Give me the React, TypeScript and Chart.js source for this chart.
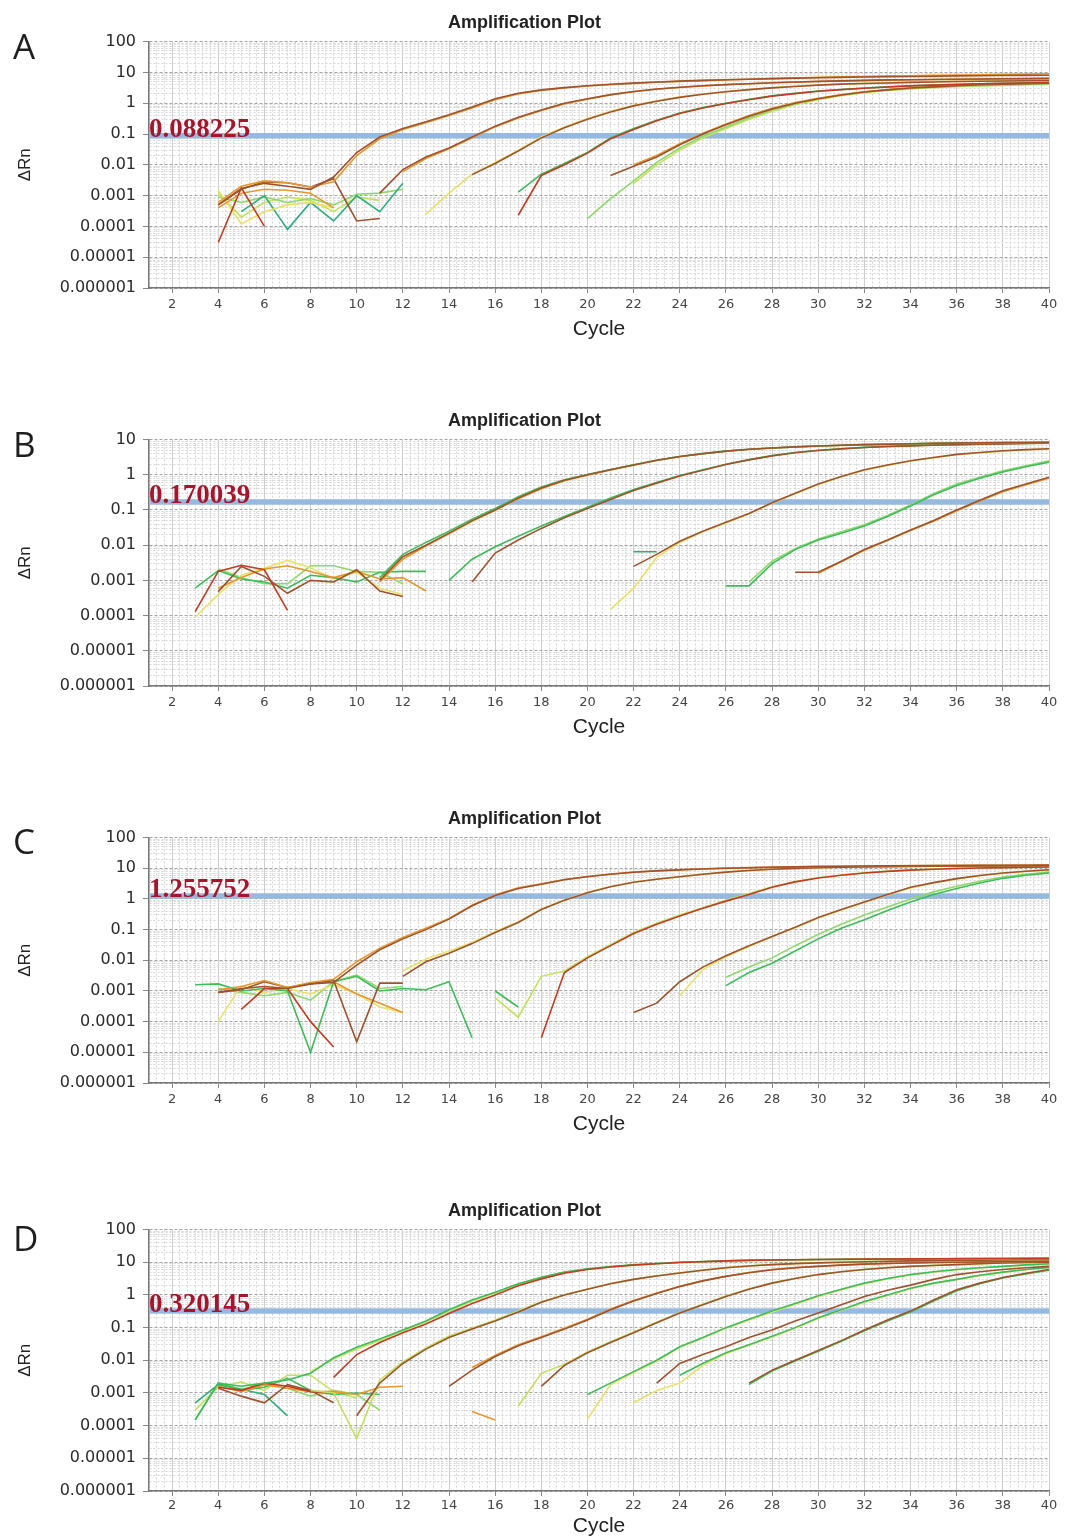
import React, { useEffect, useRef } from 'react';
import { Chart, registerables } from 'chart.js';

Chart.register(...registerables);

// ---------- categories & labels ----------
const CYCLES = Array.from({ length: 40 }, (_, i) => i + 1);
const X_TICK_LABELS = ['2', '4', '6', '8', '10', '12', '14', '16', '18', '20', '22', '24', '26', '28', '30', '32', '34', '36', '38', '40'];
const Y_TICK_LABELS = ['100', '10', '1', '0.1', '0.01', '0.001', '0.0001', '0.00001', '0.000001'];

// thresholds
const THR_A = 0.088225;
const THR_B = 0.170039;
const THR_C = 1.255752;
const THR_D = 0.320145;
const THR_A_LABEL = '0.088225';
const THR_B_LABEL = '0.170039';
const THR_C_LABEL = '1.255752';
const THR_D_LABEL = '0.320145';

// place a run of values starting at a given cycle
const pad = (start: number, vals: number[]) => {
  const out: (number | null)[] = Array(40).fill(null);
  vals.forEach((v, i) => { out[start - 1 + i] = v; });
  return out;
};

// ---------- Panel A ----------
const A1a = pad(4, [0.0005, 0.0017, 0.0025, 0.002, 0.0016, 0.004, 0.025, 0.08, 0.15, 0.25, 0.42, 0.75, 1.4, 2.1, 2.7, 3.2, 3.7, 4.1, 4.5, 4.9, 5.2, 5.5, 5.8, 6.0, 6.3, 6.5, 6.7, 6.9, 7.1, 7.3, 7.4, 7.5, 7.7, 7.8, 7.9, 8.0, 8.1]);
const A1b = pad(4, [0.0006, 0.002, 0.003, 0.0026, 0.0019, 0.0028, 0.02, 0.07, 0.14, 0.23, 0.4, 0.7, 1.3, 2.0, 2.6, 3.1, 3.6, 4.0, 4.4, 4.8, 5.1, 5.4, 5.7, 6.0, 6.3, 6.6, 6.9, 7.2, 7.4, 7.6, 7.8, 8.0, 8.2, 8.4, 8.6, 8.8, 9.0]);
const A2a = pad(11, [0.0012, 0.007, 0.018, 0.035, 0.08, 0.18, 0.35, 0.6, 1.0, 1.4, 1.9, 2.4, 2.9, 3.3, 3.7, 4.0, 4.3, 4.6, 4.9, 5.1, 5.3, 5.5, 5.7, 5.8, 5.9, 6.0, 6.1, 6.2, 6.3, 6.4]);
const A2b = pad(12, [0.006, 0.016, 0.033, 0.075, 0.17, 0.33, 0.58, 0.95, 1.35, 1.85, 2.35, 2.85, 3.25, 3.65, 4.0, 4.3, 4.6, 4.85, 5.05, 5.25, 5.45, 5.6, 5.75, 5.85, 5.95, 6.05, 6.15, 6.25, 6.35]);
const A3a = pad(13, [0.00025, 0.0012, 0.005, 0.012, 0.03, 0.08, 0.17, 0.32, 0.55, 0.85, 1.2, 1.6, 2.0, 2.4, 2.8, 3.2, 3.6, 3.9, 4.2, 4.4, 4.6, 4.8, 4.95, 5.1, 5.2, 5.3, 5.4, 5.5]);
const A3b = pad(15, [0.0048, 0.011, 0.028, 0.075, 0.16, 0.3, 0.52, 0.82, 1.15, 1.55, 1.95, 2.35, 2.75, 3.15, 3.5, 3.85, 4.15, 4.35, 4.55, 4.75, 4.9, 5.05, 5.15, 5.25, 5.35, 5.45]);
const A4a = pad(17, [0.0013, 0.005, 0.011, 0.025, 0.075, 0.15, 0.28, 0.48, 0.72, 1.0, 1.35, 1.75, 2.1, 2.5, 2.8, 3.1, 3.4, 3.7, 3.9, 4.1, 4.3, 4.45, 4.6, 4.75]);
const A4b = pad(17, [0.00023, 0.0045, 0.01, 0.024, 0.07, 0.14, 0.27, 0.46, 0.7, 0.98, 1.3, 1.7, 2.05, 2.45, 2.75, 3.05, 3.35, 3.65, 3.85, 4.05, 4.25, 4.4, 4.55, 4.7]);
const A5a = pad(21, [0.0045, 0.009, 0.018, 0.045, 0.1, 0.2, 0.38, 0.65, 1.0, 1.4, 1.85, 2.3, 2.7, 3.1, 3.4, 3.7, 3.95, 4.15, 4.3, 4.45]);
const A5b = pad(22, [0.01, 0.02, 0.048, 0.105, 0.21, 0.4, 0.68, 1.05, 1.45, 1.9, 2.35, 2.75, 3.15, 3.45, 3.75, 4.0, 4.2, 4.35, 4.5]);
const A6a = pad(20, [0.00018, 0.0008, 0.003, 0.012, 0.035, 0.085, 0.17, 0.33, 0.6, 0.95, 1.4, 1.85, 2.3, 2.7, 3.0, 3.3, 3.55, 3.75, 3.9, 4.05, 4.2]);
const A6b = pad(22, [0.0025, 0.01, 0.03, 0.075, 0.15, 0.3, 0.55, 0.9, 1.3, 1.75, 2.2, 2.6, 2.9, 3.2, 3.45, 3.65, 3.8, 3.95, 4.1]);
const nA1 = pad(4, [0.00003, 0.0018, 0.0001]);
const nA2 = pad(4, [0.0005, 0.0016, 0.0028, 0.0026, 0.0019, 0.0035, 0.00015, 0.00018]);
const nA3 = pad(4, [0.0004, 0.0012, 0.0016, 0.0015, 0.0012, 0.0004]);
const nA4 = pad(4, [0.0015, 0.00012, 0.0003, 0.0005, 0.0006, 0.0004]);
const nA5 = pad(5, [0.0003, 0.001, 0.00008, 0.0006, 0.00015, 0.001, 0.0003, 0.0025]);
const nA6 = pad(4, [0.0009, 0.0006, 0.0009, 0.0006, 0.0008, 0.0005, 0.0011, 0.0012, 0.0016]);
const nA7 = pad(4, [0.0012, 0.0002, 0.0006, 0.0009, 0.0007, 0.0003, 0.0009, 0.0007]);

// ---------- Panel B ----------
const B1a = pad(11, [0.001, 0.0047, 0.01, 0.022, 0.05, 0.1, 0.22, 0.42, 0.7, 1.0, 1.4, 1.9, 2.6, 3.3, 4.0, 4.7, 5.3, 5.8, 6.2, 6.6, 6.9, 7.2, 7.4, 7.6, 7.8, 8.0, 8.1, 8.2, 8.3, 8.4]);
const B1b = pad(11, [0.0012, 0.0055, 0.012, 0.025, 0.055, 0.11, 0.24, 0.45, 0.72, 1.02, 1.42, 1.92, 2.6, 3.3, 4.0, 4.7, 5.3, 5.8, 6.2, 6.6, 6.9, 7.2, 7.4, 7.6, 7.8, 8.0, 8.1, 8.2, 8.3, 8.4]);
const B1c = pad(11, [0.0009, 0.004, 0.0095, 0.021, 0.048, 0.098, 0.21, 0.4, 0.68, 0.98, 1.38, 1.88, 2.55, 3.25, 3.95, 4.65, 5.25, 5.75, 6.15, 6.55, 6.85, 7.15, 7.35, 7.55, 7.75, 7.95, 8.05, 8.15, 8.25, 8.35]);
const B2a = pad(14, [0.001, 0.004, 0.009, 0.018, 0.035, 0.065, 0.12, 0.22, 0.38, 0.6, 0.95, 1.4, 2.0, 2.7, 3.5, 4.3, 5.0, 5.5, 6.0, 6.4, 6.7, 7.0, 7.2, 7.4, 7.6, 7.8, 8.0]);
const B2b = pad(15, [0.0009, 0.006, 0.014, 0.03, 0.06, 0.11, 0.2, 0.36, 0.58, 0.92, 1.35, 1.95, 2.65, 3.45, 4.25, 4.9, 5.45, 5.95, 6.35, 6.65, 6.95, 7.15, 7.35, 7.55, 7.75, 7.95]);
const B3a = pad(22, [0.0025, 0.0055, 0.013, 0.025, 0.045, 0.08, 0.16, 0.3, 0.55, 0.9, 1.4, 1.9, 2.5, 3.1, 3.8, 4.3, 4.8, 5.2, 5.5]);
const B3b = pad(21, [0.00015, 0.0006, 0.0045, 0.012, 0.024, 0.043, 0.078, 0.155, 0.29, 0.53, 0.88, 1.35, 1.85, 2.45, 3.05, 3.7, 4.2, 4.7, 5.1, 5.4]);
const B3c = pad(22, [0.0065, 0.0065]);
const B4a = pad(26, [0.0007, 0.0007, 0.003, 0.0075, 0.014, 0.022, 0.035, 0.065, 0.13, 0.27, 0.5, 0.8, 1.2, 1.7, 2.3]);
const B4b = pad(27, [0.0009, 0.0035, 0.008, 0.015, 0.024, 0.038, 0.07, 0.14, 0.29, 0.55, 0.85, 1.3, 1.8, 2.5]);
const B5a = pad(29, [0.0017, 0.0017, 0.0035, 0.0075, 0.014, 0.027, 0.05, 0.1, 0.19, 0.35, 0.55, 0.85]);
const B5b = pad(30, [0.0016, 0.0034, 0.0072, 0.0135, 0.026, 0.048, 0.095, 0.18, 0.33, 0.52, 0.8]);
const nB1 = pad(3, [0.0006, 0.0019, 0.0011, 0.0009, 0.0006, 0.0014, 0.0012, 0.0009, 0.0017, 0.0018, 0.0018]);
const nB2 = pad(3, [0.00013, 0.0018, 0.0027, 0.002, 0.00014]);
const nB3 = pad(4, [0.00048, 0.0025, 0.0013, 0.00043, 0.001, 0.0009, 0.002, 0.0005, 0.00035]);
const nB4 = pad(4, [0.0006, 0.0012, 0.0021, 0.0026, 0.0018, 0.0012, 0.0018, 0.0011, 0.0012, 0.0005]);
const nB5 = pad(3, [0.00009, 0.0004, 0.0014, 0.0022, 0.0037, 0.0023, 0.0011, 0.0017, 0.0006, 0.0004]);
const nB6 = pad(4, [0.0021, 0.0012, 0.0008, 0.0008, 0.0026, 0.0026, 0.0018, 0.0017, 0.0008]);

// ---------- Panel C ----------
const C1a = pad(4, [0.0009, 0.0012, 0.0014, 0.0012, 0.0017, 0.0019, 0.007, 0.022, 0.05, 0.1, 0.22, 0.6, 1.3, 2.2, 3.0, 4.2, 5.3, 6.4, 7.4, 8.2, 8.9, 9.5, 10, 10.4, 10.8, 11.1, 11.4, 11.6, 11.8, 12, 12.1, 12.2, 12.3, 12.4, 12.5, 12.6, 12.7]);
const C1b = pad(4, [0.0011, 0.0014, 0.0022, 0.0013, 0.0019, 0.0024, 0.009, 0.025, 0.055, 0.11, 0.23, 0.62, 1.35, 2.3, 3.1, 4.3, 5.4, 6.5, 7.5, 8.3, 9.0, 9.6, 10.1, 10.5, 10.9, 11.2, 11.5, 11.7, 11.9, 12.1, 12.2, 12.3, 12.4, 12.5, 12.6, 12.7, 12.8]);
const C2a = pad(12, [0.003, 0.009, 0.017, 0.035, 0.08, 0.17, 0.45, 0.9, 1.6, 2.5, 3.5, 4.4, 5.3, 6.4, 7.5, 8.5, 9.3, 9.9, 10.4, 10.8, 11.1, 11.3, 11.5, 11.6, 11.7, 11.8, 11.9, 12, 12]);
const C2b = pad(12, [0.0045, 0.011, 0.02, 0.038, 0.085, 0.18, 0.47, 0.93, 1.65, 2.55, 3.55, 4.45, 5.35, 6.45, 7.55, 8.55, 9.35, 9.95, 10.45, 10.85, 11.15, 11.35, 11.55, 11.65, 11.75, 11.85, 11.95, 12.05, 12.1]);
const C3a = pad(18, [0.00003, 0.004, 0.012, 0.03, 0.075, 0.15, 0.28, 0.5, 0.85, 1.4, 2.4, 3.6, 4.8, 5.9, 7, 7.9, 8.7, 9.3, 9.8, 10.2, 10.5, 10.8, 11]);
const C3b = pad(16, [0.0006, 0.00014, 0.003, 0.0045, 0.013, 0.032, 0.08, 0.16, 0.3, 0.52, 0.9, 1.5, 2.5, 3.7, 4.9, 6, 7.1, 8, 8.8, 9.4, 9.9, 10.3, 10.6, 10.9, 11.1]);
const C4a = pad(22, [0.0002, 0.0004, 0.002, 0.006, 0.014, 0.03, 0.06, 0.12, 0.25, 0.45, 0.8, 1.4, 2.4, 3.4, 4.6, 5.8, 7, 8, 9]);
const C4b = pad(24, [0.0007, 0.005, 0.013, 0.028, 0.058, 0.115, 0.24, 0.43, 0.78, 1.35, 2.3, 3.3, 4.5, 5.7, 6.9, 7.9, 8.9]);
const C5a = pad(26, [0.0015, 0.004, 0.008, 0.02, 0.05, 0.11, 0.21, 0.42, 0.8, 1.4, 2.2, 3.3, 4.7, 5.9, 7]);
const C5b = pad(26, [0.0028, 0.006, 0.012, 0.03, 0.07, 0.15, 0.3, 0.55, 1.0, 1.7, 2.6, 3.8, 5.2, 6.4, 7.5]);
const nC1 = pad(3, [0.0016, 0.0017, 0.001, 0.0012, 0.001, 0.00001, 0.002, 0.003, 0.001, 0.0012, 0.0011, 0.002, 0.00003]);
const nC2 = pad(5, [0.00025, 0.0012, 0.0012, 0.0001, 0.000015]);
const nC3 = pad(4, [0.0009, 0.0011, 0.002, 0.0013, 0.0017, 0.0022, 0.000022, 0.0018, 0.0018]);
const nC4 = pad(4, [0.0001, 0.0015, 0.0009, 0.0012, 0.0008, 0.0016, 0.0008, 0.0003, 0.0002]);
const nC5 = pad(4, [0.0012, 0.0009, 0.0007, 0.0009, 0.0005, 0.002, 0.0033, 0.0012, 0.0014]);
const nC6 = pad(9, [0.002, 0.0008, 0.0004, 0.0002]);
const nC7 = pad(16, [0.001, 0.0003]);

// ---------- Panel D ----------
const D1a = pad(3, [0.00015, 0.002, 0.0016, 0.002, 0.0025, 0.004, 0.012, 0.025, 0.045, 0.085, 0.16, 0.35, 0.7, 1.2, 2.2, 3.5, 5, 6.3, 7.4, 8.4, 9.2, 10, 10.6, 11.1, 11.5, 11.8, 12, 12.2, 12.3, 12.4, 12.5, 12.6, 12.7, 12.8, 12.9, 13, 13.1, 13.2]);
const D1b = pad(9, [0.003, 0.015, 0.035, 0.07, 0.13, 0.27, 0.55, 1.0, 1.9, 3.1, 4.6, 6, 7.2, 8.2, 9, 9.8, 10.4, 11, 11.4, 11.7, 12, 12.2, 12.4, 12.5, 12.6, 12.7, 12.8, 12.9, 13, 13.1, 13.2, 13.3]);
const D1c = pad(8, [0.0045, 0.011, 0.022, 0.04, 0.08, 0.15, 0.32, 0.65, 1.15, 2.1, 3.4, 4.9, 6.2, 7.3, 8.3, 9.1, 9.9, 10.5, 11, 11.4, 11.7, 11.9, 12.1, 12.2, 12.3, 12.4, 12.5, 12.6, 12.7, 12.8, 12.9, 13, 13.1]);
const D2a = pad(10, [0.0002, 0.002, 0.008, 0.022, 0.05, 0.09, 0.16, 0.3, 0.6, 1.0, 1.5, 2.2, 3.0, 3.8, 4.7, 5.7, 6.8, 7.7, 8.5, 9.1, 9.6, 10, 10.4, 10.7, 11, 11.2, 11.4, 11.6, 11.8, 11.9, 12]);
const D2b = pad(8, [0.0012, 0.001, 0.00004, 0.0025, 0.009, 0.024, 0.055, 0.095, 0.17, 0.32, 0.62, 1.02, 1.52, 2.25, 3.05, 3.85, 4.75, 5.75, 6.85, 7.75, 8.55, 9.15, 9.65, 10.05, 10.45, 10.75, 11.05, 11.25, 11.45, 11.65, 11.85, 11.95, 12.05]);
const D3a = pad(14, [0.0016, 0.005, 0.013, 0.028, 0.05, 0.09, 0.17, 0.35, 0.65, 1.1, 1.8, 2.7, 3.7, 4.8, 5.9, 6.8, 7.5, 8.2, 8.8, 9.2, 9.5, 9.8, 10, 10.2, 10.4, 10.6, 10.8]);
const D3b = pad(15, [0.006, 0.014, 0.03, 0.053, 0.095, 0.18, 0.37, 0.68, 1.15, 1.85, 2.75, 3.75, 4.85, 5.95, 6.85, 7.55, 8.25, 8.85, 9.25, 9.55, 9.85, 10.05, 10.25, 10.45, 10.65, 10.85]);
const D4a = pad(18, [0.0016, 0.007, 0.017, 0.035, 0.07, 0.14, 0.28, 0.5, 0.9, 1.5, 2.3, 3.2, 4.2, 5.1, 6, 6.8, 7.5, 8, 8.5, 9, 9.5, 9.8, 10]);
const D4b = pad(17, [0.0004, 0.004, 0.0075, 0.018, 0.037, 0.073, 0.145, 0.29, 0.52, 0.93, 1.55, 2.35, 3.25, 4.25, 5.15, 6.05, 6.85, 7.55, 8.05, 8.55, 9.05, 9.55, 9.85, 10.05]);
const D5a = pad(20, [0.0009, 0.002, 0.0045, 0.01, 0.026, 0.05, 0.1, 0.18, 0.32, 0.55, 0.95, 1.5, 2.3, 3.2, 4.2, 5.1, 6, 6.8, 7.5, 8.3, 9]);
const D5b = pad(20, [0.00016, 0.0018, 0.0042, 0.0095, 0.025, 0.048, 0.095, 0.17, 0.3, 0.52, 0.9, 1.45, 2.2, 3.1, 4.1, 5, 5.9, 6.7, 7.4, 8.2, 8.9]);
const D6a = pad(23, [0.002, 0.008, 0.015, 0.026, 0.05, 0.085, 0.16, 0.28, 0.5, 0.9, 1.4, 2, 3, 4.2, 5.1, 6, 6.8, 7.5]);
const D6b = pad(24, [0.0035, 0.008, 0.017, 0.03, 0.054, 0.1, 0.2, 0.35, 0.63, 1.0, 1.6, 2.3, 3, 4, 5, 6, 7]);
const D6c = pad(22, [0.0005, 0.0012, 0.002, 0.007, 0.016, 0.029, 0.052, 0.097, 0.19, 0.34, 0.6, 0.97, 1.55, 2.25, 2.95, 3.9, 4.9, 5.9, 6.9]);
const D7a = pad(27, [0.002, 0.005, 0.01, 0.02, 0.04, 0.085, 0.17, 0.32, 0.7, 1.45, 2.3, 3.4, 4.6, 6]);
const D7b = pad(27, [0.0018, 0.0047, 0.0095, 0.019, 0.038, 0.08, 0.16, 0.3, 0.65, 1.35, 2.2, 3.3, 4.4, 5.7]);
const nDs = pad(15, [0.00027, 0.00015]);
const nD1 = pad(3, [0.00015, 0.002, 0.0012, 0.0015, 0.0028, 0.0012, 0.0009, 0.001, 0.0009]);
const nD2 = pad(3, [0.0005, 0.0018, 0.0013, 0.0009, 0.0002]);
const nD3 = pad(4, [0.0016, 0.0011, 0.0018, 0.0014, 0.0011, 0.0011, 0.0009, 0.0015, 0.0016]);
const nD4 = pad(4, [0.0014, 0.0008, 0.0005, 0.0018, 0.0012, 0.0005]);
const nD5 = pad(4, [0.0015, 0.0012, 0.002, 0.0016, 0.0011, 0.001]);
const nD6 = pad(3, [0.0003, 0.0015, 0.0022, 0.0012, 0.0035, 0.0035, 0.0011, 0.0007]);
const nD7 = pad(4, [0.002, 0.0013, 0.0018, 0.0014, 0.0008, 0.0012, 0.0009, 0.0003]);

// ---------- colours ----------
const RED = '#c23b22';
const BROWN = '#a0522d';
const ORANGE = '#e8962e';
const YELLOW = '#e9e266';
const LIME = '#c2e25a';
const LGREEN = '#8ed86a';
const GREEN = '#3dbd5a';
const TEAL = '#2fae7c';

type S = [(number | null)[], string];

const SERIES_A: S[] = [
  [A1a, BROWN], [A1b, ORANGE], [A2a, BROWN], [A2b, ORANGE], [A3b, BROWN], [A3a, YELLOW],
  [A4b, RED], [A4a, GREEN], [A5a, BROWN], [A5b, ORANGE], [A6a, LGREEN], [A6b, LIME],
  [nA1, RED], [nA2, BROWN], [nA3, ORANGE], [nA4, YELLOW], [nA5, TEAL], [nA6, LGREEN], [nA7, LIME],
];
const SERIES_B: S[] = [
  [B1a, BROWN], [B1b, GREEN], [B1c, ORANGE], [B2b, BROWN], [B2a, GREEN], [B3a, BROWN], [B3b, YELLOW], [B3c, TEAL],
  [B4a, GREEN], [B4b, LGREEN], [B5a, BROWN], [B5b, ORANGE],
  [nB2, RED], [nB3, BROWN], [nB4, ORANGE], [nB1, GREEN], [nB5, YELLOW], [nB6, LGREEN],
];
const SERIES_C: S[] = [
  [C1a, BROWN], [C1b, ORANGE], [C2a, BROWN], [C2b, YELLOW], [C3a, RED], [C3b, LIME],
  [C4a, BROWN], [C4b, YELLOW], [C5a, GREEN], [C5b, LGREEN],
  [nC2, RED], [nC3, BROWN], [nC6, ORANGE], [nC1, GREEN], [nC4, YELLOW], [nC5, LGREEN], [nC7, GREEN],
];
const SERIES_D: S[] = [
  [D1b, RED], [D1a, GREEN], [D1c, LIME], [D2a, BROWN], [D2b, LIME], [D3a, BROWN], [D3b, ORANGE],
  [D4a, BROWN], [D4b, LIME], [D5a, GREEN], [D5b, YELLOW], [D6a, BROWN], [D6b, GREEN], [D6c, YELLOW],
  [D7a, BROWN], [D7b, GREEN], [nDs, ORANGE],
  [nD5, RED], [nD4, BROWN], [nD3, ORANGE], [nD1, GREEN], [nD2, TEAL], [nD6, LIME], [nD7, LGREEN],
];

// ---------- layout of the four panels ----------
const PANELS = [
  { letter: 'A', top: 0, height: 345, xAxisH: 57, yMax: 100, thr: THR_A, thrLabel: THR_A_LABEL, letterY: 59, tickPad: 4, cyclePad: 3, series: SERIES_A },
  { letter: 'B', top: 398, height: 345, xAxisH: 57, yMax: 10, thr: THR_B, thrLabel: THR_B_LABEL, letterY: 59, tickPad: 4, cyclePad: 3, series: SERIES_B },
  { letter: 'C', top: 796, height: 344, xAxisH: 57, yMax: 100, thr: THR_C, thrLabel: THR_C_LABEL, letterY: 58, tickPad: 4, cyclePad: 3, series: SERIES_C },
  { letter: 'D', top: 1188, height: 351, xAxisH: 48, yMax: 100, thr: THR_D, thrLabel: THR_D_LABEL, letterY: 63, tickPad: 2, cyclePad: 0, series: SERIES_D },
];

const isDecade = (v: number) => Math.abs(Math.log10(v) - Math.round(Math.log10(v))) < 1e-6;
const isEvenCycle = (v: number) => Math.abs(v - Math.round(v)) < 1e-6 && Math.round(v) % 2 === 0;
const logGridValues = (max: number) => {
  const out: number[] = [];
  for (let e = -6; Math.pow(10, e) < max * 0.999; e++) {
    for (let m = 1; m <= 9; m++) out.push(Number((m * Math.pow(10, e)).toPrecision(6)));
  }
  out.push(max);
  return out;
};
// fine vertical grid: three lines per cycle
const X_GRID = Array.from({ length: 118 }, (_, k) => 1 + k / 3);

const decorPlugin = {
  id: 'decor',
  afterDatasetsDraw(chart: any, _args: any, opts: any) {
    const { ctx, chartArea, scales } = chart;
    const y = scales.y.getPixelForValue(opts.threshold);
    ctx.save();
    ctx.textAlign = 'left';
    ctx.textBaseline = 'alphabetic';
    ctx.font = 'bold 27px "Liberation Serif"';
    ctx.fillStyle = '#a8142c';
    ctx.fillText(opts.label, chartArea.left, y + 1);
    ctx.font = '35px "Open Sans"';
    ctx.fillStyle = '#1e1e1e';
    ctx.fillText(opts.letter, 13, opts.letterY);
    ctx.restore();
  },
};

function Panel({ cfg }: { cfg: typeof PANELS[number] }) {
  const ref = useRef<HTMLCanvasElement>(null);
  useEffect(() => {
    const gridVals = logGridValues(cfg.yMax);
    const chart = new Chart(ref.current as HTMLCanvasElement, {
      type: 'line',
      data: {
        labels: CYCLES,
        datasets: [
          {
            data: [{ x: 1, y: cfg.thr }, { x: 40, y: cfg.thr }] as any,
            borderColor: '#96b9e0',
            borderWidth: 5.5,
            borderCapStyle: 'butt',
            pointRadius: 0,
            order: 10,
          },
          ...cfg.series.map(([arr, color]) => ({
            data: arr as any,
            borderColor: color,
            borderWidth: 1.6,
            pointRadius: 0,
            tension: 0,
            spanGaps: false,
            fill: false,
            order: 1,
          })),
        ],
      },
      options: {
        animation: false,
        responsive: false,
        devicePixelRatio: 1,
        events: [],
        layout: { padding: { left: 0, right: 17, top: 0, bottom: 0 } },
        plugins: {
          legend: { display: false },
          tooltip: { enabled: false },
          title: {
            display: true,
            text: 'Amplification Plot',
            color: '#222',
            font: { family: 'Liberation Sans', size: 18, weight: 'bold' },
            padding: { top: 12, bottom: 8 },
          },
          decor: { threshold: cfg.thr, label: cfg.thrLabel, letter: cfg.letter, letterY: cfg.letterY },
        } as any,
        scales: {
          x: {
            type: 'linear',
            min: 1,
            max: 40,
            afterBuildTicks: (s: any) => { s.ticks = X_GRID.map((v) => ({ value: v })); },
            afterFit: (s: any) => { s.height = cfg.xAxisH; },
            ticks: {
              autoSkip: false,
              maxRotation: 0,
              padding: cfg.tickPad,
              color: '#444',
              font: { family: 'DejaVu Sans', size: 13 },
              callback: (v: any) => {
                const n = Number(v);
                return isEvenCycle(n) && X_TICK_LABELS.includes(String(Math.round(n))) ? String(Math.round(n)) : '';
              },
            },
            grid: {
              color: (c: any) => (c.tick && isEvenCycle(c.tick.value) ? '#cdcdcd' : '#d3d3d3'),
              lineWidth: 1,
              tickLength: 5,
              tickColor: (c: any) => (c.tick && isEvenCycle(c.tick.value) ? '#888' : 'rgba(0,0,0,0)'),
            },
            border: {
              display: true,
              color: '#777',
              width: 1.5,
              dash: (c: any) => (c.tick && isEvenCycle(c.tick.value) ? [] : [2, 2]),
            },
            title: {
              display: true,
              text: 'Cycle',
              color: '#222',
              font: { family: 'Liberation Sans', size: 21 },
              padding: { top: 0, bottom: cfg.cyclePad },
            },
          },
          y: {
            type: 'logarithmic',
            min: 0.000001,
            max: cfg.yMax,
            afterBuildTicks: (s: any) => { s.ticks = gridVals.map((v) => ({ value: v })); },
            afterFit: (s: any) => { s.width = 149; },
            ticks: {
              autoSkip: false,
              padding: 7,
              color: '#2a2a2a',
              font: { family: 'DejaVu Sans', size: 16 },
              callback: (v: any) => {
                const lab = Y_TICK_LABELS.find((t) => Math.abs(Number(t) - Number(v)) < Number(v) * 1e-6);
                return lab && isDecade(Number(v)) ? lab : '';
              },
            },
            grid: {
              color: (c: any) => (c.tick && isDecade(c.tick.value) ? '#a4a4a4' : '#d6d6d6'),
              lineWidth: 1,
              tickLength: 6,
              tickColor: (c: any) => (c.tick && isDecade(c.tick.value) ? '#888' : 'rgba(0,0,0,0)'),
            },
            border: {
              display: true,
              color: '#777',
              width: 1.5,
              dash: (c: any) => (c.tick && isDecade(c.tick.value) ? [3, 2] : [2, 2]),
            },
            title: {
              display: true,
              text: 'ΔRn',
              color: '#222',
              font: { family: 'Liberation Sans', size: 17 },
              padding: { top: 15, bottom: 0 },
            },
          },
        },
      } as any,
      plugins: [decorPlugin as any],
    });
    return () => chart.destroy();
  }, []);
  return (
    <div style={{ position: 'absolute', left: 0, top: cfg.top, width: 1066, height: cfg.height }}>
      <canvas ref={ref} width={1066} height={cfg.height} style={{ display: 'block', width: 1066, height: cfg.height }} />
    </div>
  );
}

export default function App() {
  return (
    <div style={{ position: 'absolute', left: 0, top: 0, width: 1066, height: 1539, background: '#fff', overflow: 'hidden' }}>
      {PANELS.map((p) => (
        <Panel key={p.letter} cfg={p} />
      ))}
    </div>
  );
}
